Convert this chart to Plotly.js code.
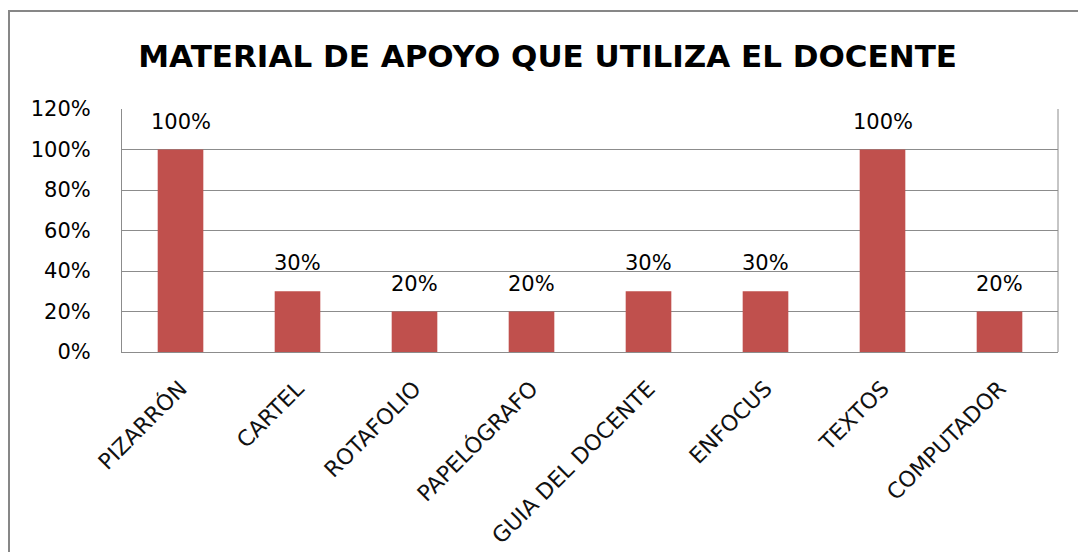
<!DOCTYPE html>
<html>
<head>
<meta charset="utf-8">
<script src="https://cdn.plot.ly/plotly-3.0.1.min.js"></script>
<style>html,body{margin:0;padding:0;background:#fff;}#chart{width:1078px;height:552px;}</style>
</head>
<body>
<div id="chart"></div>
<script>
const categories = ["PIZARRÓN","CARTEL","ROTAFOLIO","PAPELÓGRAFO","GUIA DEL DOCENTE","ENFOCUS","TEXTOS","COMPUTADOR"];
const values = [1.00, 0.30, 0.20, 0.20, 0.30, 0.30, 1.00, 0.20];
const labels = ["100%","30%","20%","20%","30%","30%","100%","20%"];
const yTicks = [0, 0.2, 0.4, 0.6, 0.8, 1.0, 1.2];
const titleText = "MATERIAL DE APOYO QUE UTILIZA EL DOCENTE";

const W = 1078, H = 552, mL = 122, mR = 20, mT = 109, mB = 200;
const pw = W - mL - mR, ph = H - mT - mB;
const px = v => (v - mL) / pw;
const py = v => (H - mB - v) / ph;
const FONT = '"DejaVu Sans", sans-serif';

const trace = {
  type: 'bar',
  x: categories,
  y: values,
  marker: {color: '#C0504D'},
  width: 0.39,
  hoverinfo: 'none'
};

const annotations = categories.map((c, i) => ({
  x: c, y: values[i], xref: 'x', yref: 'y',
  text: labels[i], showarrow: false,
  xanchor: 'center', yanchor: 'bottom', yshift: 14,
  font: {family: FONT, size: 21, color: '#000'}
}));

const layout = {
  width: W, height: H,
  margin: {l: mL, r: mR, t: mT, b: mB},
  paper_bgcolor: '#fff', plot_bgcolor: '#fff',
  showlegend: false,
  title: {text: '<b>' + titleText + '</b>', x: 0.508, xanchor: 'center', y: 0.898, yanchor: 'middle', font: {family: FONT, size: 31, color: '#000'}},
  xaxis: {
    type: 'category',
    tickangle: -45,
    tickfont: {family: FONT, size: 22, color: '#111'},
    showline: true, linecolor: '#8c8c8c', linewidth: 1,
    ticks: '', showgrid: false, ticklabelstandoff: 14, fixedrange: true
  },
  yaxis: {
    range: [0, 1.2],
    tickvals: yTicks,
    tickformat: '.0%',
    tickfont: {family: FONT, size: 21, color: '#000'},
    showline: true, linecolor: '#8c8c8c', linewidth: 1,
    showgrid: true, gridcolor: '#8c8c8c', gridwidth: 1,
    zeroline: false, ticks: '', ticklabelstandoff: 26, fixedrange: true
  },
  annotations: annotations,
  shapes: [
    {type: 'rect', xref: 'paper', yref: 'paper', x0: px(9), x1: px(1090), y0: py(570), y1: py(11),
     line: {color: '#878787', width: 2}, fillcolor: 'rgba(0,0,0,0)', layer: 'above'},
    {type: 'line', xref: 'paper', yref: 'paper', x0: 1, x1: 1, y0: 0, y1: 1, line: {color: '#8c8c8c', width: 1}}
  ]
};

Plotly.newPlot('chart', [trace], layout, {displayModeBar: false, staticPlot: true});
</script>
</body>
</html>
